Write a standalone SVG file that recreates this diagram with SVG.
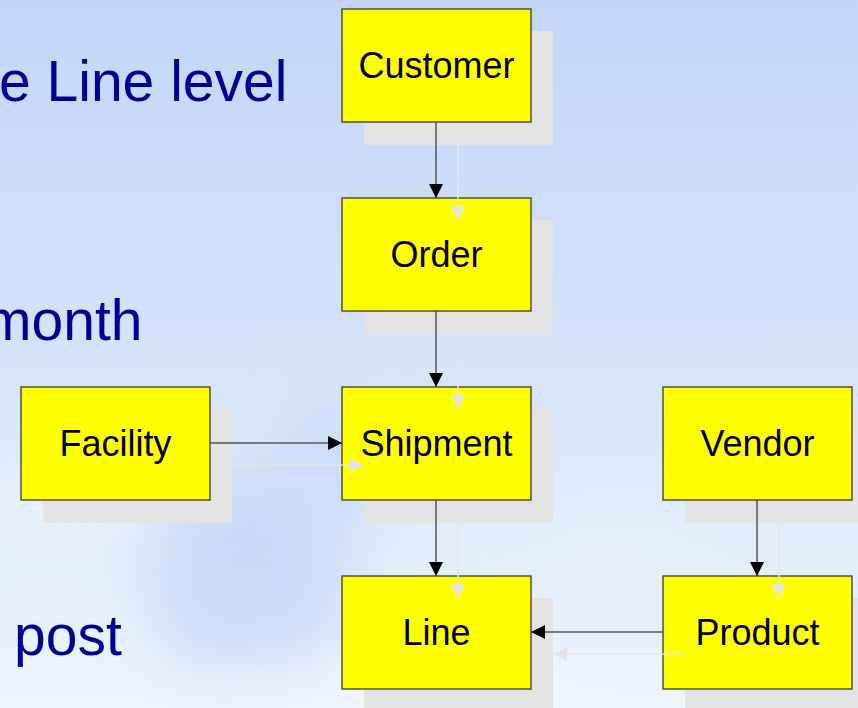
<svg xmlns="http://www.w3.org/2000/svg" width="858" height="708" viewBox="0 0 858 708">
  <defs>
    <linearGradient id="sky" x1="0" y1="0" x2="0" y2="1">
      <stop offset="0" stop-color="#c3d6f8"/>
      <stop offset="0.45" stop-color="#d3e2fa"/>
      <stop offset="0.8" stop-color="#e3eefc"/>
      <stop offset="1" stop-color="#edf5fd"/>
    </linearGradient>
    <filter id="soft" x="-50%" y="-50%" width="200%" height="200%">
      <feGaussianBlur stdDeviation="30"/>
    </filter>
    <marker id="head" viewBox="0 0 14 14" refX="14" refY="7" markerWidth="14" markerHeight="14" markerUnits="userSpaceOnUse" orient="auto">
      <path d="M0,0 L14,7 L0,14 Z" fill="#000"/>
    </marker>
    <marker id="headShadow" viewBox="0 0 14 14" refX="14" refY="7" markerWidth="14" markerHeight="14" markerUnits="userSpaceOnUse" orient="auto">
      <path d="M0,0 L14,7 L0,14 Z" fill="#e4e4e4"/>
    </marker>
    <style>
      .box { fill: #ffff00; stroke: #3a3a2a; stroke-width: 1.3; }
      .shadow { fill: #e3e3e3; }
      .label { font-family: "Liberation Sans", Arial, sans-serif; font-size: 36px; fill: #000; text-anchor: middle; }
      .side { font-family: "Liberation Sans", Arial, sans-serif; font-size: 57px; fill: #000099; }
      .link { stroke: #555; stroke-width: 1.5; fill: none; marker-end: url(#head); }
      .link-shadow { stroke: #e4e4e4; stroke-width: 1.5; fill: none; marker-end: url(#headShadow); }
    </style>
  </defs>

  <!-- sky background -->
  <rect x="0" y="0" width="858" height="708" fill="url(#sky)"/>
  <g filter="url(#soft)" opacity="0.55">
    <ellipse cx="250" cy="580" rx="100" ry="110" fill="#b6cbf4"/>
    <ellipse cx="330" cy="470" rx="55" ry="65" fill="#c0d3f6"/>
    <ellipse cx="60" cy="500" rx="90" ry="30" fill="#f4f8fe"/>
    <ellipse cx="380" cy="695" rx="200" ry="30" fill="#f4f8fe"/>
    <ellipse cx="620" cy="560" rx="90" ry="60" fill="#e6f0fc"/>
  </g>

  <!-- side text -->
  <text class="side" x="-1" y="101">e Line level</text>
  <text class="side" x="-16" y="340">month</text>
  <text class="side" x="14" y="655">post</text>

  <!-- shadows of the boxes -->
  <g id="shadows">
    <rect class="shadow" x="364" y="31" width="189" height="114"/>
    <rect class="shadow" x="364" y="220" width="189" height="114"/>
    <rect class="shadow" x="364" y="409" width="189" height="114"/>
    <rect class="shadow" x="364" y="598" width="189" height="114"/>
    <rect class="shadow" x="43" y="409" width="189" height="114"/>
    <rect class="shadow" x="685" y="409" width="189" height="114"/>
    <rect class="shadow" x="685" y="598" width="189" height="114"/>
  </g>

  <!-- nodes -->
  <g id="customer">
    <rect class="box" x="342" y="9" width="189" height="113"/>
    <text class="label" x="436.5" y="78">Customer</text>
  </g>
  <g id="order">
    <rect class="box" x="342" y="198" width="189" height="113"/>
    <text class="label" x="436.5" y="267">Order</text>
  </g>
  <g id="shipment">
    <rect class="box" x="342" y="387" width="189" height="113"/>
    <text class="label" x="436.5" y="456">Shipment</text>
  </g>
  <g id="line">
    <rect class="box" x="342" y="576" width="189" height="113"/>
    <text class="label" x="436.5" y="645">Line</text>
  </g>
  <g id="facility">
    <rect class="box" x="21" y="387" width="189" height="113"/>
    <text class="label" x="115.5" y="456">Facility</text>
  </g>
  <g id="vendor">
    <rect class="box" x="663" y="387" width="189" height="113"/>
    <text class="label" x="757.5" y="456">Vendor</text>
  </g>
  <g id="product">
    <rect class="box" x="663" y="576" width="189" height="113"/>
    <text class="label" x="757.5" y="645">Product</text>
  </g>

  <!-- connectors, each with its pale shadow copy -->
  <g id="connectors">
    <line class="link-shadow" x1="458" y1="145" x2="458" y2="220"/>
    <line class="link-shadow" x1="458" y1="334" x2="458" y2="409"/>
    <line class="link-shadow" x1="458" y1="523" x2="458" y2="598"/>
    <line class="link-shadow" x1="232" y1="465" x2="364" y2="465"/>
    <line class="link-shadow" x1="779" y1="523" x2="779" y2="598"/>
    <line class="link-shadow" x1="685" y1="654" x2="553" y2="654"/>

    <line class="link" x1="436" y1="122" x2="436" y2="198"/>
    <line class="link" x1="436" y1="311" x2="436" y2="387"/>
    <line class="link" x1="436" y1="500" x2="436" y2="576"/>
    <line class="link" x1="210" y1="443" x2="342" y2="443"/>
    <line class="link" x1="757" y1="500" x2="757" y2="576"/>
    <line class="link" x1="663" y1="632" x2="531" y2="632"/>
  </g>
</svg>
